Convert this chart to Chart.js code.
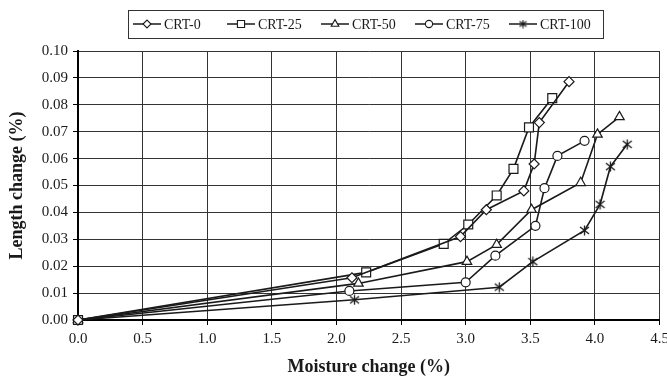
<!DOCTYPE html>
<html>
<head>
<meta charset="utf-8">
<script src="https://cdn.jsdelivr.net/npm/chart.js@4.4.1/dist/chart.umd.min.js"></script>
<style>
  html, body { margin: 0; padding: 0; background: #fff; }
</style>
</head>
<body>
<canvas id="moistureChart" width="667" height="378"></canvas>
<script>
// Series: moisture change (%) vs length change (%)
const seriesNames = ['CRT-0', 'CRT-25', 'CRT-50', 'CRT-75', 'CRT-100'];

const crt0Moisture = [0, 2.12, 2.96, 3.16, 3.45, 3.53, 3.57, 3.80];
const crt0Length   = [0, 0.0157, 0.031, 0.041, 0.048, 0.058, 0.0734, 0.0886];

const crt25Moisture = [0, 2.23, 2.83, 3.02, 3.24, 3.37, 3.49, 3.67];
const crt25Length   = [0, 0.0177, 0.0283, 0.0355, 0.0463, 0.0562, 0.0716, 0.0825];

const crt50Moisture = [0, 2.17, 3.01, 3.24, 3.51, 3.89, 4.02, 4.19];
const crt50Length   = [0, 0.0136, 0.0217, 0.028, 0.041, 0.051, 0.069, 0.0755];

const crt75Moisture = [0, 2.10, 3.00, 3.23, 3.54, 3.61, 3.71, 3.92];
const crt75Length   = [0, 0.0108, 0.014, 0.0239, 0.035, 0.049, 0.061, 0.0666];

const crt100Moisture = [0, 2.14, 3.26, 3.52, 3.92, 4.04, 4.12, 4.25];
const crt100Length   = [0, 0.0075, 0.0122, 0.0217, 0.0333, 0.043, 0.057, 0.0653];

const xTickValues = [0, 0.5, 1.0, 1.5, 2.0, 2.5, 3.0, 3.5, 4.0, 4.5];
const yTickValues = [0, 0.01, 0.02, 0.03, 0.04, 0.05, 0.06, 0.07, 0.08, 0.09, 0.10];

const serif = '"Liberation Serif", "Times New Roman", serif';
const ink = '#1a1a1a';

// asterisk marker (vertical stroke + X), drawn once on a small canvas
function makeAsterisk(size) {
  const c = document.createElement('canvas');
  c.width = size; c.height = size;
  const g = c.getContext('2d');
  const m = size / 2;
  g.strokeStyle = ink;
  g.lineWidth = 1.3;
  g.beginPath();
  g.moveTo(m, 0.5); g.lineTo(m, size - 0.5);
  g.moveTo(1, 2); g.lineTo(size - 1, size - 2);
  g.moveTo(size - 1, 2); g.lineTo(1, size - 2);
  g.stroke();
  return c;
}
const asterisk = makeAsterisk(11);
const asteriskSmall = makeAsterisk(9);

function toPoints(xs, ys) {
  return xs.map((x, i) => ({ x: x, y: ys[i] }));
}

const markerStyles = [
  { pointStyle: 'rectRot', pointRadius: 5, legendStyle: 'rectRot' },
  { pointStyle: 'rect', pointRadius: 6.3, legendStyle: 'rect' },
  { pointStyle: 'triangle', pointRadius: 5.5, legendStyle: 'triangle' },
  { pointStyle: 'circle', pointRadius: 4.5, legendStyle: 'circle' },
  { pointStyle: asterisk, pointRadius: 5.5, legendStyle: asteriskSmall }
];

const xs = [crt0Moisture, crt25Moisture, crt50Moisture, crt75Moisture, crt100Moisture];
const ys = [crt0Length, crt25Length, crt50Length, crt75Length, crt100Length];

const datasets = seriesNames.map((name, i) => ({
  label: name,
  data: toPoints(xs[i], ys[i]),
  showLine: true,
  borderColor: ink,
  borderWidth: 1.6,
  backgroundColor: '#fff',
  pointBackgroundColor: '#fff',
  pointBorderColor: ink,
  pointBorderWidth: 1.2,
  pointStyle: markerStyles[i].pointStyle,
  pointRadius: markerStyles[i].pointRadius,
  clip: false
}));

// boxed legend in equal columns: line sample with marker, then the label
const boxedLegend = {
  id: 'boxedLegend',
  afterDraw(chart) {
    const ctx = chart.ctx;
    const boxL = 128, boxR = 603, boxT = 10, boxB = 38;
    const midY = (boxT + boxB) / 2;
    const sampleW = 28, textGap = 3, padX = 5;
    const sets = chart.data.datasets;
    const pitch = (boxR - boxL - padX) / sets.length;
    ctx.save();
    ctx.strokeStyle = '#333';
    ctx.lineWidth = 1;
    ctx.strokeRect(boxL + 0.5, boxT + 0.5, boxR - boxL, boxB - boxT);

    ctx.font = '14px ' + serif;
    sets.forEach((d, i) => {
      const x = boxL + padX + i * pitch;
      ctx.strokeStyle = ink;
      ctx.lineWidth = 1.5;
      ctx.beginPath();
      ctx.moveTo(x, midY);
      ctx.lineTo(x + sampleW, midY);
      ctx.stroke();
      ctx.fillStyle = '#fff';
      ctx.lineWidth = 1.1;
      Chart.helpers.drawPoint(ctx, {
        pointStyle: markerStyles[i].legendStyle,
        radius: d.pointRadius * 0.8,
        rotation: 0,
        borderWidth: 1.1
      }, x + sampleW / 2, midY);
      ctx.fillStyle = ink;
      ctx.textBaseline = 'middle';
      ctx.textAlign = 'left';
      ctx.fillText(d.label, x + sampleW + textGap, midY + 1);
    });
    ctx.restore();
  }
};

const ctx = document.getElementById('moistureChart').getContext('2d');
new Chart(ctx, {
  type: 'scatter',
  data: { datasets: datasets },
  plugins: [boxedLegend],
  options: {
    responsive: false,
    animation: false,
    layout: {
      padding: { top: 51, right: 6, bottom: 0, left: 0 }
    },
    plugins: {
      legend: { display: false },
      tooltip: { enabled: false }
    },
    scales: {
      x: {
        type: 'linear',
        min: 0,
        max: 4.5,
        afterBuildTicks: scale => { scale.ticks = xTickValues.map(v => ({ value: v })); },
        afterFit: scale => { scale.height = 58; scale.paddingLeft = 0; scale.paddingRight = 0; },
        ticks: {
          color: ink,
          font: { family: serif, size: 15 },
          padding: 5,
          maxRotation: 0,
          callback: v => Number(v).toFixed(1)
        },
        grid: { color: '#333', lineWidth: 1, tickLength: 5, tickColor: '#000' },
        border: { color: '#000', width: 2 },
        title: {
          display: true,
          text: 'Moisture change (%)',
          color: ink,
          font: { family: serif, size: 18, weight: 'bold' },
          padding: { top: 4, bottom: 0 }
        }
      },
      y: {
        type: 'linear',
        min: 0,
        max: 0.1,
        afterBuildTicks: scale => { scale.ticks = yTickValues.map(v => ({ value: v })); },
        afterFit: scale => { scale.width = 78; scale.paddingTop = 0; scale.paddingBottom = 0; },
        ticks: {
          color: ink,
          font: { family: serif, size: 15 },
          padding: 5,
          callback: v => Number(v).toFixed(2)
        },
        grid: { color: '#333', lineWidth: 1, tickLength: 5, tickColor: '#000' },
        border: { color: '#000', width: 2 },
        title: {
          display: true,
          text: 'Length change (%)',
          color: ink,
          font: { family: serif, size: 18, weight: 'bold' },
          padding: { top: 7, bottom: 0 }
        }
      }
    }
  }
});
</script>
</body>
</html>
